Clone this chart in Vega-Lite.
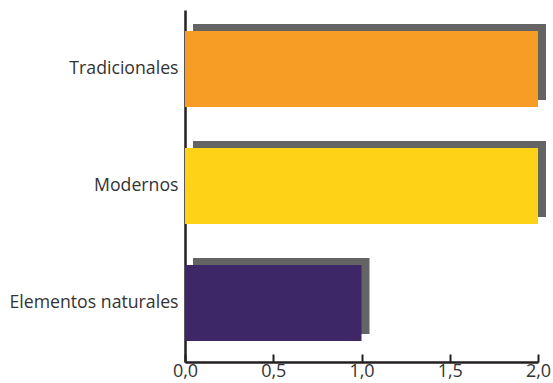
{
  "$schema": "https://vega.github.io/schema/vega-lite/v6.json",
  "autosize": {"type": "none"},
  "width": 353,
  "height": 352,
  "padding": {"left": 185, "top": 10, "right": 15, "bottom": 21},
  "background": "white",
  "config": {"view": {"stroke": null}, "font": "Open Sans"},
  "data": {
    "values": [
      {"categoria": "Tradicionales", "valor": 2.0, "color": "#F79C24"},
      {"categoria": "Modernos", "valor": 2.0, "color": "#FDD217"},
      {"categoria": "Elementos naturales", "valor": 1.0, "color": "#3D2766"}
    ]
  },
  "encoding": {
    "y": {
      "field": "categoria",
      "type": "nominal",
      "sort": null,
      "scale": {"paddingInner": 0.35, "paddingOuter": 0.18},
      "axis": {
        "title": null,
        "domainColor": "#231F20",
        "domainWidth": 2.5,
        "ticks": false,
        "labelPadding": 7,
        "labelFontSize": 17.7,
        "labelColor": "#333333",
        "labelFont": "Open Sans"
      }
    },
    "x": {
      "field": "valor",
      "type": "quantitative",
      "scale": {"domain": [0, 2], "nice": false},
      "axis": {
        "title": null,
        "values": [0, 0.5, 1, 1.5, 2],
        "grid": false,
        "domainColor": "#231F20",
        "domainWidth": 2.5,
        "tickColor": "#231F20",
        "tickWidth": 2,
        "tickSize": -8,
        "labelPadding": 8,
        "labelFontSize": 18,
        "labelColor": "#333333",
        "labelFont": "Open Sans",
        "labelExpr": "replace(format(datum.value, '.1f'), '.', ',')",
        "labelFlush": false
      }
    }
  },
  "layer": [
    {
      "mark": {"type": "bar", "color": "#646464", "xOffset": 8, "x2Offset": 8, "yOffset": -7, "y2Offset": -7}
    },
    {
      "mark": {"type": "bar"},
      "encoding": {"color": {"field": "color", "type": "nominal", "scale": null}}
    }
  ]
}
